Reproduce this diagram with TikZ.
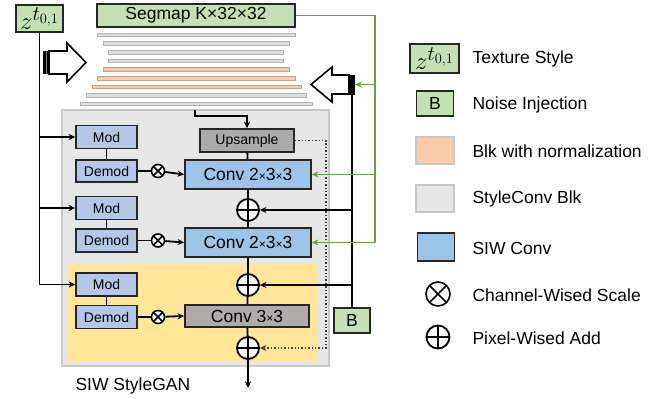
\documentclass[tikz,border=0pt]{standalone}
\usepackage[no-math]{fontspec}
\setmainfont{Liberation Sans}
\usetikzlibrary{arrows.meta}

\definecolor{stylegreen}{RGB}{197,224,180}
\definecolor{wiregreen}{RGB}{107,158,72}
\definecolor{convblue}{RGB}{157,195,230}
\definecolor{modblue}{RGB}{180,199,231}
\definecolor{upgray}{RGB}{170,170,170}
\definecolor{convgray}{RGB}{175,171,171}
\definecolor{yellowbg}{RGB}{255,230,153}
\definecolor{blkgray}{RGB}{230,230,230}
\definecolor{blkedge}{RGB}{200,200,200}
\definecolor{mapgray}{RGB}{222,222,222}
\definecolor{maporange}{RGB}{248,203,173}
\definecolor{boxline}{RGB}{38,38,38}

\tikzset{
  box/.style={draw=boxline, line width=1.7pt, inner sep=0pt},
  bigtext/.style={font=\fontsize{17.5}{20}\selectfont},
  smalltext/.style={font=\fontsize{14}{16}\selectfont},
  greenbox/.style={box, fill=stylegreen},
  stylez/.style={greenbox, minimum width=47pt, minimum height=27pt, font=\fontsize{28}{28}\selectfont},
  modbox/.style={box, fill=modblue, minimum width=61pt, minimum height=23pt, smalltext},
  convbox/.style={box, fill=convblue, minimum width=126pt, minimum height=29pt, bigtext},
  barbox/.style={fill=black, minimum width=6pt, minimum height=22pt, inner sep=0pt},
  addop/.style={circle, draw=black, fill=white, line width=1.8pt, minimum size=22pt, inner sep=0pt,
    path picture={\draw[line width=1.6pt] (path picture bounding box.north) -- (path picture bounding box.south)
      (path picture bounding box.west) -- (path picture bounding box.east);}},
  mulop/.style={circle, draw=black, fill=white, line width=1.6pt, minimum size=13pt, inner sep=0pt,
    path picture={\draw[line width=1.5pt] (path picture bounding box.north west) -- (path picture bounding box.south east)
      (path picture bounding box.south west) -- (path picture bounding box.north east);}},
  wire/.style={line width=1.8pt, draw=black},
  arr/.style={wire, -{Stealth[length=6.5pt,width=6pt,inset=2pt]}},
  garr/.style={line width=1.8pt, draw=wiregreen, -{Stealth[length=6.5pt,width=6pt,inset=2pt]}},
  legtext/.style={anchor=west, bigtext}
}

\begin{document}
\begin{tikzpicture}[x=1pt, y=-1pt]
\useasboundingbox (0,0) rectangle (657,399);

% Stack of feature maps
\foreach \xa/\xb/\yy/\cc in {97/295/34.7/mapgray, 103/289/43.3/mapgray, 108/283/52.3/mapgray,
    108/283/60.7/mapgray, 103/289/69.3/maporange, 97/295/78.3/maporange, 92/301/86.7/maporange,
    86/306/95.3/mapgray, 80/312/104/mapgray}
  \draw[line width=0.8pt, draw=\cc!80!black, fill=\cc] (\xa,\yy-1.7) rectangle (\xb,\yy+1.7);

% StyleConv block and the last block with normalization
\draw[draw=blkedge, fill=blkgray, line width=1.4pt] (62,110) rectangle (329,366);
\fill[yellowbg] (67,263) rectangle (318,361);

% Hollow arrows with bars
\node[barbox, minimum height=23pt] (lbar) at (46,62.5) {};
\draw[gray, line width=0.8pt] (lbar.north) -- (lbar.south);
\draw[line width=1.6pt, fill=white] (49,51) -- (67,51) -- (67,43) -- (86,62.5) -- (67,82) -- (67,74) -- (49,74) -- cycle;
\node[barbox, minimum height=20pt] (rbar) at (352,84.5) {};
\draw[line width=1.6pt, fill=white] (349,75) -- (332,75) -- (332,67) -- (311,84.5) -- (332,102) -- (332,94) -- (349,94) -- cycle;

% Inputs
\node[stylez] (z) at (39.5,18.5) {$z^{t_{0,1}}$};
\node[greenbox, minimum width=198pt, minimum height=23pt, bigtext] (segmap) at (196,15.5) {Segmap K×32×32};
\node[greenbox, minimum width=36pt, minimum height=25pt, bigtext] (noise) at (352,320.5) {B};

% Mod / Demod
\node[modbox] (mod1) at (106.5,137) {Mod};
\node[modbox, minimum height=22pt] (demod1) at (106.5,171) {Demod};
\node[modbox] (mod2) at (106.5,208) {Mod};
\node[modbox] (demod2) at (106.5,240.5) {Demod};
\node[modbox] (mod3) at (106.5,284.5) {Mod};
\node[modbox] (demod3) at (106.5,317) {Demod};
\node[mulop] (mul1) at (158,171) {};
\node[mulop] (mul2) at (158,240.5) {};
\node[mulop] (mul3) at (158,317) {};

% Main path
\node[box, fill=upgray, minimum width=94pt, minimum height=23pt, smalltext] (upsample) at (247,140.5) {Upsample};
\node[convbox] (conv1) at (248,174.5) {Conv 2{\fontsize{12}{12}\selectfont×}3{\fontsize{12}{12}\selectfont×}3};
\node[addop] (add1) at (248,210) {};
\node[convbox] (conv2) at (248,242.5) {Conv 2{\fontsize{12}{12}\selectfont×}3{\fontsize{12}{12}\selectfont×}3};
\node[addop] (add2) at (248,285) {};
\node[convbox, fill=convgray, minimum width=124pt, minimum height=22pt] (conv3) at (247,316) {Conv 3{\fontsize{12}{12}\selectfont×}3};
\node[addop] (add3) at (248,348) {};
\coordinate (upin) at (195,110);
\coordinate (out) at (248,388);
\coordinate (dotc) at (326,140.5);
\coordinate (gtop) at (375,15.5);

\draw[arr] (upin) -- (195,116) -| (upsample.north);
\draw[wire] (upsample) -- (conv1) -- (add1) -- (conv2) -- (add2) -- (conv3) -- (add3);
\draw[arr] (add3) -- (out);
\draw[line width=1.4pt, dotted, draw=black!75, -{Stealth[length=6.5pt,width=6pt,inset=2pt]}] (upsample.east) -- (dotc) |- (add3.east);

% Style vector to Mod
\draw[arr] (z.south) |- (mod3.west);
\draw[arr] (z.south |- mod1) -- (mod1.west);
\draw[arr] (z.south |- mod2) -- (mod2.west);
\foreach \i in {1,2,3} {
  \draw[wire] (mod\i) -- (demod\i);
  \draw[wire] (demod\i) -- (mul\i);
  \draw[arr] (mul\i) -- (conv\i.west);
}

% Noise injection
\draw[wire] (rbar.south) -- (noise.north);
\draw[arr] (rbar.south |- add1) -- (add1.east);
\draw[arr] (rbar.south |- add2) -- (add2.east);

% Segmap wiring
\draw[garr] (segmap.east) -- (gtop) |- (conv2.east);
\draw[garr] (gtop |- conv1) -- (conv1.east);
\draw[garr] (gtop |- rbar) -- (rbar.east);

\node[anchor=west, bigtext] (title) at (72,386) {SIW StyleGAN};

% Legend
\node[stylez, minimum width=49pt, minimum height=29pt] (lz) at (434.5,58.5) {$z^{t_{0,1}}$};
\node[legtext] (lzt) at (469,59) {Texture Style};
\node[greenbox, minimum width=37pt, minimum height=25pt, bigtext] (lb) at (435,103.5) {B};
\node[legtext] (lbt) at (469,105) {Noise Injection};
\node[box, draw=blkedge, fill=maporange, minimum width=38pt, minimum height=27pt] (lo) at (435,150.5) {};
\node[legtext] (lot) at (469,151.5) {Blk with normalization};
\node[box, draw=blkedge, fill=blkgray, minimum width=38pt, minimum height=27pt] (lg) at (435,198.5) {};
\node[legtext] (lgt) at (469,198.5) {StyleConv Blk};
\node[box, fill=convblue, minimum width=37pt, minimum height=28pt] (lc) at (436,247) {};
\node[legtext] (lct) at (469,248) {SIW Conv};
\node[mulop, minimum size=24pt] (lm) at (438,294) {};
\node[legtext] (lmt) at (469,295) {Channel-Wised Scale};
\node[addop, minimum size=23pt] (la) at (438,337) {};
\node[legtext] (lat) at (469,338) {Pixel-Wised Add};
\end{tikzpicture}
\end{document}
